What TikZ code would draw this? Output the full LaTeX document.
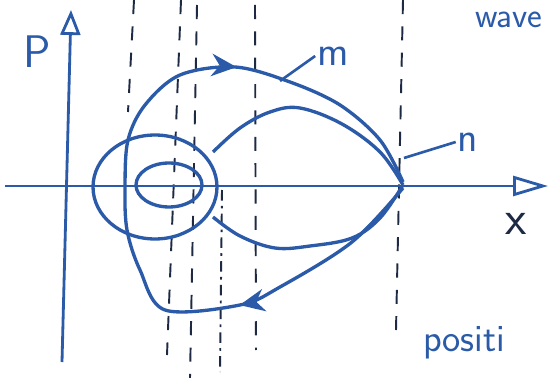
\documentclass[tikz,border=0pt]{standalone}
\usetikzlibrary{arrows.meta,positioning,decorations.markings}
\definecolor{ink}{HTML}{2B5BA8}
\definecolor{pencil}{HTML}{1E2A44}
\tikzset{
  axisline/.style={draw=ink, line width=1.6pt, -{Triangle[open, length=#1, width=4mm]}},
  orbit/.style={draw=ink, line width=1.9pt},
  guide/.style={draw=pencil, line width=1.1pt, dash pattern=on 8pt off 7pt},
  guidedot/.style={draw=pencil, line width=1.1pt, dash pattern=on 6pt off 3pt on 1.5pt off 3pt},
  leader/.style={draw=ink, line width=1.5pt},
  inklbl/.style={text=ink, font=\sffamily\fontsize{20}{20}\selectfont, inner sep=1pt},
  flow/.style={postaction={decorate}, decoration={markings,
      mark=at position 0.25 with {\arrow{Stealth[length=5mm, width=4.5mm]}},
      mark=at position 0.74 with {\arrow{Stealth[length=5mm, width=4.5mm]}}}}}
\begin{document}
\begin{tikzpicture}[x=0.02cm, y=-0.02cm]
  \useasboundingbox (0,0) rectangle (551,378);
  % guide lines
  \foreach \xa/\ya/\xb/\yb in {134/0/128/112, 181/0/167/355, 197/5/190/378,
                              255/5/256/350, 403/0/396/330}
    \draw[guide] (\xa,\ya) -- (\xb,\yb);
  \draw[guidedot] (222,190) -- (220,372);
  % axes
  \coordinate (xl) at (5,186);
  \coordinate (xr) at (548,186);
  \coordinate (pb) at (62,362);
  \coordinate (ptop) at (71,10);
  \draw[axisline=7mm] (xl) -- (xr);
  \draw[axisline=5mm] (pb) -- (ptop);
  % closed orbits
  \draw[orbit] (169,185) ellipse [x radius=0.66cm, y radius=0.44cm];
  \draw[orbit] (155,187) ellipse [x radius=1.24cm, y radius=1.04cm];
  % separatrix loop n
  \coordinate (cusp) at (403,185);
  \draw[orbit] plot[smooth, tension=0.6] coordinates {(213,152) (240,128) (270,112)
      (300,108) (342,124) (380,152) (403,185)};
  \draw[orbit] plot[smooth, tension=0.6] coordinates {(403,185) (380,218) (352,238)
      (310,246) (275,248) (240,236) (213,217)};
  % open orbit m
  \draw[orbit, flow] plot[smooth, tension=0.55] coordinates {(403,188) (352,242)
      (280,287) (240,305) (165,310) (140,270) (127,230) (125,187) (128,140)
      (145,105) (180,75) (235,67) (290,82) (340,105) (380,140) (403,182)};
  % labels
  \node[inklbl, font=\sffamily\fontsize{26}{26}\selectfont] (plbl) at (37,52) {P};
  \node[text=pencil, font=\sffamily\fontsize{28}{28}\selectfont] (xlbl) at (516,224) {x};
  \node[inklbl, font=\sffamily\fontsize{24}{24}\selectfont] (mlbl) at (333,56) {m};
  \node[inklbl, font=\sffamily\fontsize{24}{24}\selectfont] (nlbl) at (468,142) {n};
  \node[inklbl, anchor=west] (wave) at (473,20) {wave};
  \node[inklbl, anchor=west, font=\sffamily\fontsize{22}{22}\selectfont] (posn) at (421,343) {positi};
  \coordinate (mfoot) at (280,81);
  \coordinate (nfoot) at (404,158);
  \draw[leader] (mfoot) -- (mlbl.west);
  \draw[leader] (nfoot) -- (nlbl.west);
\end{tikzpicture}
\end{document}
